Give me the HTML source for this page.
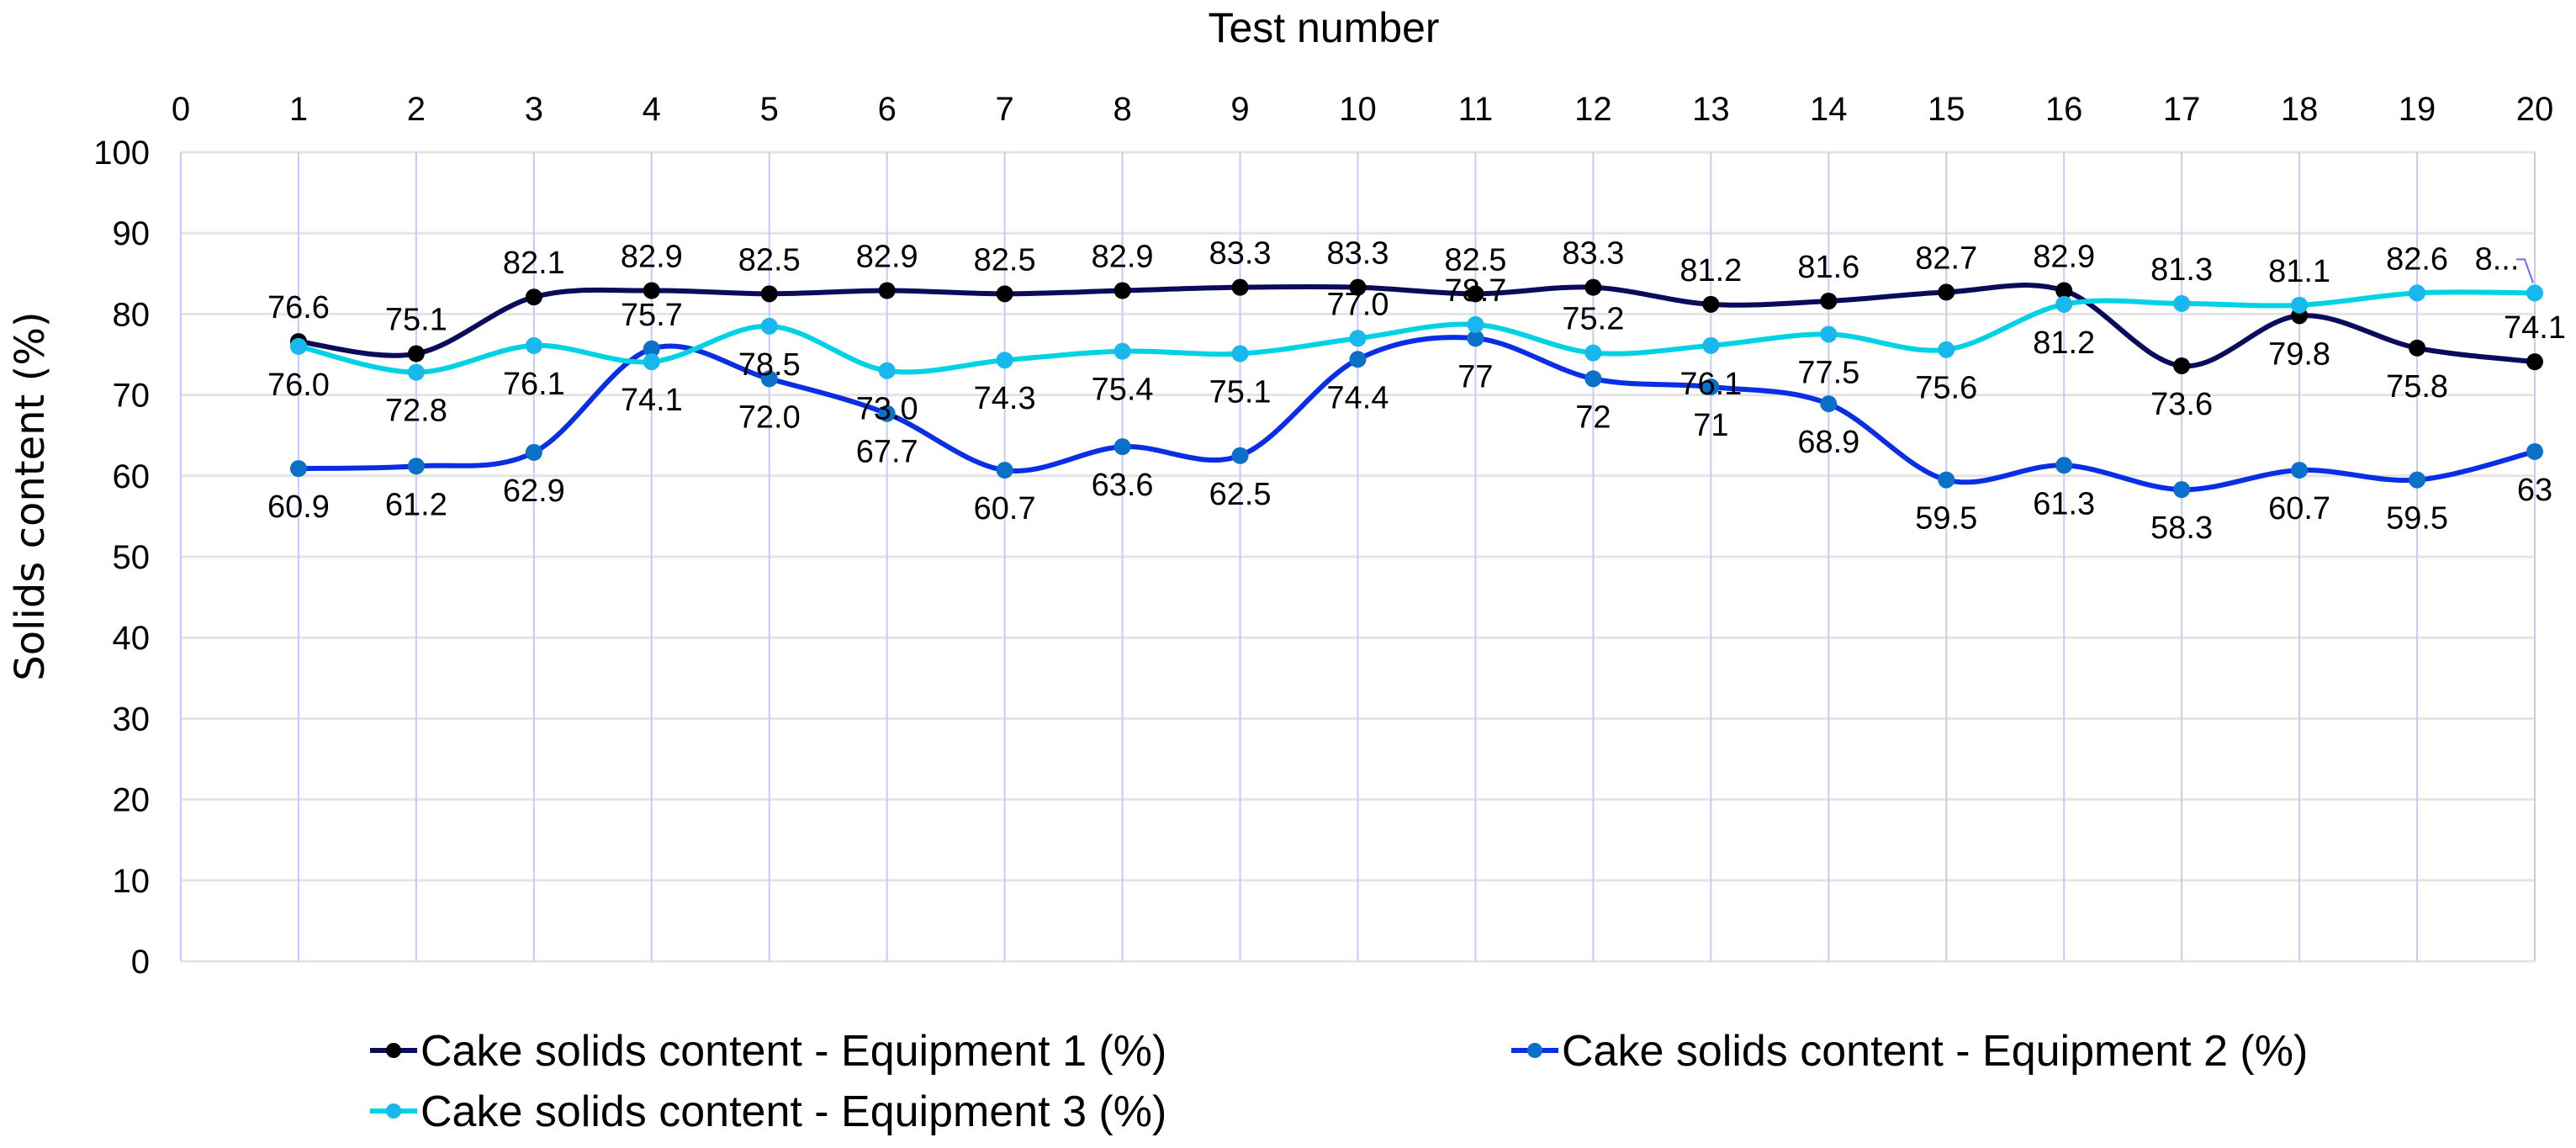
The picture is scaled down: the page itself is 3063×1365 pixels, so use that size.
<!DOCTYPE html>
<html><head><meta charset="utf-8"><style>
body{margin:0;background:#fff;}
svg{display:block;font-family:"Liberation Sans",sans-serif;}
</style></head><body>
<svg id="chart" width="3063" height="1365">
<g id="grid"></g>
<g id="axes"></g>
<g id="series"></g>
<g id="labels"></g>
<text x="1574" y="50" font-size="50" text-anchor="middle" fill="#000">Test number</text>
<text transform="translate(52,590) rotate(-90)" font-size="48" text-anchor="middle" fill="#000" font-family="DejaVu Sans, sans-serif">Solids content (%)</text>
<g id="legend"></g>
</svg>
<script>
const categories = [1,2,3,4,5,6,7,8,9,10,11,12,13,14,15,16,17,18,19,20];
const xTicks = [0,1,2,3,4,5,6,7,8,9,10,11,12,13,14,15,16,17,18,19,20];
const yTicks = [0,10,20,30,40,50,60,70,80,90,100];
const equip1 = [76.6,75.1,82.1,82.9,82.5,82.9,82.5,82.9,83.3,83.3,82.5,83.3,81.2,81.6,82.7,82.9,73.6,79.8,75.8,74.1];
const equip2 = [60.9,61.2,62.9,75.7,72.0,67.7,60.7,63.6,62.5,74.4,77,72,71,68.9,59.5,61.3,58.3,60.7,59.5,63];
const equip3 = [76.0,72.8,76.1,74.1,78.5,73.0,74.3,75.4,75.1,77.0,78.7,75.2,76.1,77.5,75.6,81.2,81.3,81.1,82.6,82.6];
const label1 = ["76.6","75.1","82.1","82.9","82.5","82.9","82.5","82.9","83.3","83.3","82.5","83.3","81.2","81.6","82.7","82.9","73.6","79.8","75.8","74.1"];
const label2 = ["60.9","61.2","62.9","75.7","72.0","67.7","60.7","63.6","62.5","74.4","77","72","71","68.9","59.5","61.3","58.3","60.7","59.5","63"];
const label3 = ["76.0","72.8","76.1","74.1","78.5","73.0","74.3","75.4","75.1","77.0","78.7","75.2","76.1","77.5","75.6","81.2","81.3","81.1","82.6","8..."];
const pos1 = "aaaaaaaaaaaaaaaabbba";
const pos2 = "bbbabbbbbbbbbbbbbbbb";
const pos3 = "bbbbbbbbbaaabbbbaaaa";

const NS="http://www.w3.org/2000/svg";
const L=215,R=3014,T=181,B=1143;
const xs=v=>L+(v-0)/(20-0)*(R-L);
const ys=v=>B-(v-0)/(100-0)*(B-T);
function mk(tag,parent,attrs){const e=document.createElementNS(NS,tag);for(const k in attrs)e.setAttribute(k,attrs[k]);parent.appendChild(e);return e;}
const grid=document.getElementById('grid'),axes=document.getElementById('axes');
yTicks.forEach(v=>{
  const l=mk('line',grid,{x1:L,x2:R,y1:ys(v),y2:ys(v),stroke:'#e4e4e4','stroke-width':3});
  
  
  const t=mk('text',axes,{x:178,y:ys(v)+14,'font-size':40,'text-anchor':'end',fill:'#000'});
  t.textContent=v;
  
  
});
xTicks.forEach(v=>{
  const l=mk('line',grid,{x1:xs(v),x2:xs(v),y1:T,y2:B,stroke:'#c8c8fa','stroke-width':2});
  
  
  const t=mk('text',axes,{x:xs(v),y:143,'font-size':40,'text-anchor':'middle',fill:'#000'});
  t.textContent=v;
  
  
});
function smooth(pts){
  let d=`M${pts[0][0]},${pts[0][1]}`;
  for(let i=0;i<pts.length-1;i++){
    const p0=pts[i-1]||pts[i],p1=pts[i],p2=pts[i+1],p3=pts[i+2]||p2;
    const c1=[p1[0]+(p2[0]-p0[0])/6,p1[1]+(p2[1]-p0[1])/6];
    const c2=[p2[0]-(p3[0]-p1[0])/6,p2[1]-(p3[1]-p1[1])/6];
    d+=` C${c1[0]},${c1[1]} ${c2[0]},${c2[1]} ${p2[0]},${p2[1]}`;
  }
  return d;
}
const S=document.getElementById('series'),LB=document.getElementById('labels');
const defs=[
  {vals:equip1,labs:label1,pos:pos1,line:'#0b0b5c',mark:'#000000',name:'equipment-1'},
  {vals:equip2,labs:label2,pos:pos2,line:'#0a2ee6',mark:'#0a70c8',name:'equipment-2'},
  {vals:equip3,labs:label3,pos:pos3,line:'#00d2e6',mark:'#18b8ee',name:'equipment-3'}
];
defs.forEach(s=>{
  const pts=s.vals.map((v,i)=>[xs(categories[i]),ys(v)]);
  const p=mk('path',S,{d:smooth(pts),fill:'none',stroke:s.line,'stroke-width':6});
  
  
  pts.forEach((q,i)=>{
    const c=mk('circle',S,{cx:q[0],cy:q[1],r:10,fill:s.mark});
    
    
    const above=s.pos[i]==='a';
    let tx=q[0];
    if(s.labs[i]==='8...') tx=q[0]-45;
    const t=mk('text',LB,{x:tx,y:above?q[1]-28:q[1]+58,'font-size':38,'text-anchor':'middle',fill:'#000'});
    t.textContent=s.labs[i];
    
    
  });
});
const lead=mk('polyline',LB,{points:`${xs(20)-22},${ys(82.6)-40} ${xs(20)-12},${ys(82.6)-40} ${xs(20)-2},${ys(82.6)-12}`,fill:'none',stroke:'#6a6aff','stroke-width':2});


const LG=document.getElementById('legend');
[[440,1249,0,'Cake solids content - Equipment 1 (%)'],[1797,1249,1,'Cake solids content - Equipment 2 (%)'],[440,1321,2,'Cake solids content - Equipment 3 (%)']].forEach(e=>{
  const s=defs[e[2]];
  const g=mk('g',LG,{});
  
  
  mk('line',g,{x1:e[0],x2:e[0]+56,y1:e[1],y2:e[1],stroke:s.line,'stroke-width':6});
  mk('circle',g,{cx:e[0]+28,cy:e[1],r:9,fill:s.mark});
  const t=mk('text',g,{x:e[0]+60,y:e[1]+18,'font-size':52,fill:'#000'});
  t.textContent=e[3];
});
</script>
</body></html>
